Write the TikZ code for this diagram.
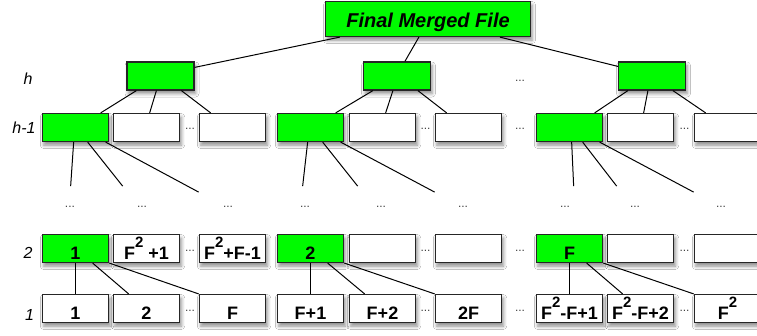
\documentclass[tikz,border=0pt]{standalone}
\usepackage{fontspec}
\setmainfont{Liberation Sans}
\usetikzlibrary{calc,shadows.blur}
\newcommand{\sqr}{\raisebox{11.5pt}{\fontsize{15}{15}\selectfont 2}}
\definecolor{boxgreen}{RGB}{0,250,0}
\tikzset{
  shd/.style={blur shadow={shadow xshift=1.5pt, shadow yshift=-3.5pt, shadow blur radius=3.5pt, shadow opacity=45}},
  box/.style={draw=black!85, line width=1.2pt, minimum width=66.5pt, minimum height=28pt,
    inner sep=0pt, text height=24.5pt, text depth=3.5pt,
    font=\fontsize{18}{18}\selectfont\bfseries, shd},
  gbox/.style={box, fill=boxgreen},
  wbox/.style={box, fill=white},
  topbox/.style={draw=black!85, line width=1.2pt, fill=boxgreen, minimum width=205pt, minimum height=35pt,
    inner sep=0pt, text height=25.5pt, text depth=9.5pt,
    font=\fontsize{20}{20}\selectfont\bfseries\itshape, shd},
  conn/.style={draw=black, line width=1pt},
  dts/.style={anchor=base, inner sep=0pt, text=black!75, font=\fontsize{12}{12}\selectfont},
  lev/.style={anchor=base, inner sep=0pt, font=\fontsize{16}{16}\selectfont\itshape},
}
\begin{document}
\begin{tikzpicture}[x=1pt, y=-1pt]
\clip (0,0) rectangle (757,335);
\fill[white] (0,0) rectangle (757,335);

% top
\node[topbox] (top) at (428,19) {Final Merged File};

% level h
\node[gbox, minimum width=67pt] (h1) at (160.5,76) {};
\node[gbox, minimum width=67pt] (h2) at (397,76) {};
\node[gbox, minimum width=67pt] (h3) at (652,76) {};

% level h-1
\node[gbox] (a1) at (75.5,127.5) {};
\node[wbox] (a2) at (146.5,127.5) {};
\node[wbox] (a3) at (232.5,127.5) {};
\node[gbox] (a4) at (310.5,127.5) {};
\node[wbox] (a5) at (382.5,127.5) {};
\node[wbox] (a6) at (468.5,127.5) {};
\node[gbox] (a7) at (569.5,127.5) {};
\node[wbox] (a8) at (640.5,127.5) {};
\node[wbox] (a9) at (727.5,127.5) {};

% level 2
\node[gbox] (b1) at (75.5,248.5) {1};
\node[wbox] (b2) at (146.5,248.5) {F\sqr\ +1};
\node[wbox] (b3) at (232.5,248.5) {F\sqr+F-1};
\node[gbox] (b4) at (310.5,248.5) {2};
\node[wbox] (b5) at (382.5,248.5) {};
\node[wbox] (b6) at (468.5,248.5) {};
\node[gbox] (b7) at (569.5,248.5) {F};
\node[wbox] (b8) at (640.5,248.5) {};
\node[wbox] (b9) at (727.5,248.5) {};

% level 1
\node[wbox] (c1) at (75.5,308.5) {1};
\node[wbox] (c2) at (146.5,308.5) {2};
\node[wbox] (c3) at (232.5,308.5) {F};
\node[wbox] (c4) at (310.5,308.5) {F+1};
\node[wbox] (c5) at (382.5,308.5) {F+2};
\node[wbox] (c6) at (468.5,308.5) {2F};
\node[wbox] (c7) at (569.5,308.5) {F\sqr-F+1};
\node[wbox] (c8) at (640.5,308.5) {F\sqr-F+2};
\node[wbox] (c9) at (727.5,308.5) {F\sqr};

% level labels
\node[lev] (lh) at (28,84) {h};
\node[lev] (lh1) at (24,133) {h-1};
\node[lev] (l2) at (28,258) {2};
\node[lev] (l1) at (29.5,320) {1};

% dots
\node[dts] (dh) at (520,81.5) {...};
\node[dts] (da1) at (190,129.5) {...};
\node[dts] (da2) at (425.5,129.5) {...};
\node[dts] (da3) at (520,129.5) {...};
\node[dts] (da4) at (684.5,129.5) {...};
\node[dts] (db1) at (190,251.5) {...};
\node[dts] (db2) at (425.5,251.5) {...};
\node[dts] (db3) at (520,251.5) {...};
\node[dts] (db4) at (684.5,251.5) {...};
\node[dts] (dc1) at (190,311.5) {...};
\node[dts] (dc2) at (425.5,311.5) {...};
\node[dts] (dc3) at (520,311.5) {...};
\node[dts] (dc4) at (684.5,311.5) {...};
\foreach \x [count=\i] in {70,142,228,305,381,463,565,635,721}
  \node[dts] (dm\i) at (\x,207) {...};

% connectors top -> h
\draw[conn] ($(top.south west)+(15,0)$) -- ($(h1.north east)+(0,6)$);
\draw[conn] ($(top.south west)+(94,0)$) -- ($(h2.north west)+(42,0)$);
\draw[conn] ($(top.south west)+(175,0)$) -- ($(h3.north west)+(0,5)$);

% h -> h-1
\foreach \p/\u/\v/\w in {h1/a1/a2/a3, h2/a4/a5/a6, h3/a7/a8/a9}{
  \draw[conn] ($(\p.south west)+(10,0)$) -- ($(\u.north west)+(59,0)$);
  \draw[conn] ($(\p.south west)+(30,0)$) -- ($(\v.north west)+(37,0)$);
  \draw[conn] ($(\p.south west)+(55,0)$) -- ($(\w.north west)+(12,0)$);
}

% h-1 -> dangling
\coordinate (e1a) at ($(a1.south west)+(29,44)$);
\coordinate (e1b) at ($(a1.south west)+(81,44)$);
\coordinate (e1c) at ($(a1.south west)+(157,50)$);
\coordinate (e4a) at ($(a4.south west)+(26,44)$);
\coordinate (e4b) at ($(a4.south west)+(81,44)$);
\coordinate (e4c) at ($(a4.south west)+(158,50)$);
\coordinate (e7a) at ($(a7.south west)+(38,44)$);
\coordinate (e7b) at ($(a7.south west)+(81,44)$);
\coordinate (e7c) at ($(a7.south west)+(158,50)$);
\draw[conn] ($(a1.south west)+(32,0)$) -- (e1a);
\draw[conn] ($(a1.south west)+(46,0)$) -- (e1b);
\draw[conn] ($(a1.south west)+(64,0)$) -- (e1c);
\draw[conn] ($(a4.south west)+(31,0)$) -- (e4a);
\draw[conn] ($(a4.south west)+(46,0)$) -- (e4b);
\draw[conn] ($(a4.south west)+(64,0)$) -- (e4c);
\draw[conn] ($(a7.south west)+(36,0)$) -- (e7a);
\draw[conn] ($(a7.south west)+(47,0)$) -- (e7b);
\draw[conn] ($(a7.south west)+(64,0)$) -- (e7c);

% level 2 -> level 1
\foreach \p/\u/\v/\w in {b1/c1/c2/c3, b4/c4/c5/c6, b7/c7/c8/c9}{
  \draw[conn] ($(\p.south west)+(34,0)$) -- ($(\u.north west)+(34,0)$);
  \draw[conn] ($(\p.south west)+(51,0)$) -- ($(\v.north west)+(16,0)$);
  \draw[conn] (\p.south east) -- (\w.north west);
}
\end{tikzpicture}
\end{document}
